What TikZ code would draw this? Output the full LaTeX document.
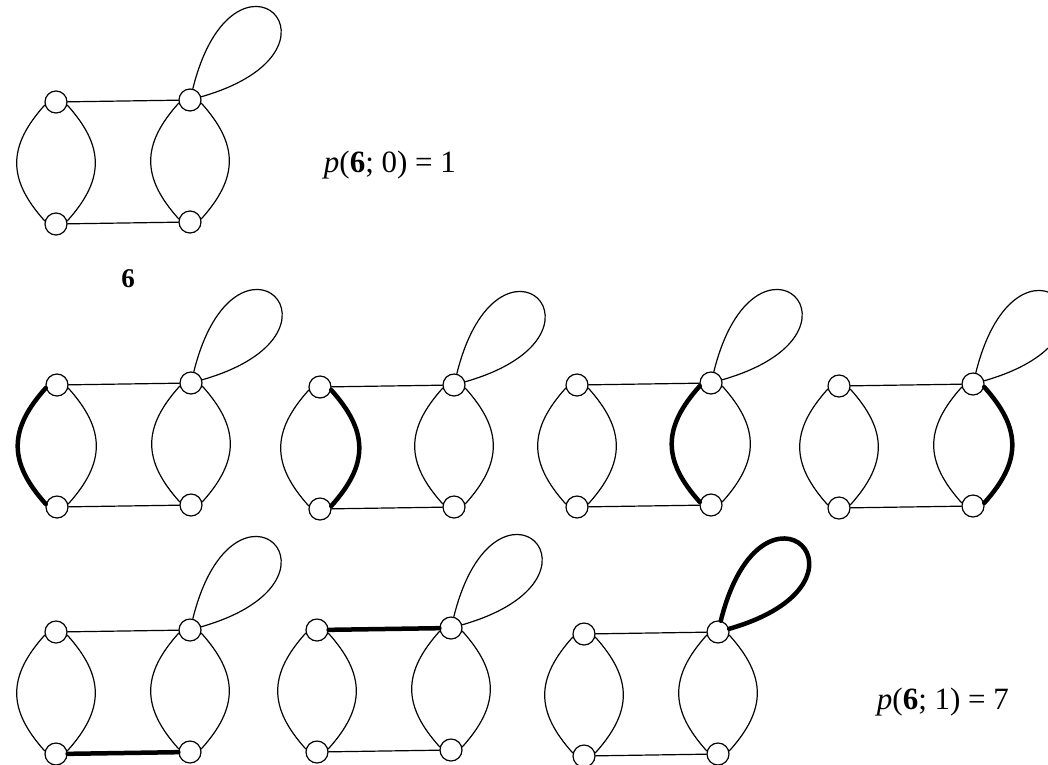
\documentclass[tikz,border=0pt]{standalone}
\usepackage{fontspec}
\setmainfont{Liberation Serif}
\tikzset{
  vtx/.style={circle,draw,fill=white,minimum size=22pt,inner sep=0pt},
  thickedge/.style={line width=4.5pt},
}
% one drawing of the graph 6, #3 names the edge that is drawn thick
\newcommand{\sixgraph}[3]{%
  \begin{scope}[shift={#2}]
    \tikzset{eLO/.style={},eLI/.style={},eRI/.style={},eRO/.style={},
      eTop/.style={},eBot/.style={},eLoop/.style={},eNone/.style={}}
    \tikzset{#3/.style={thickedge}}
    \node[vtx] (#1lt) at (0,0) {};
    \node[vtx] (#1lb) at (0,-122) {};
    \node[vtx] (#1rt) at (134,2) {};
    \node[vtx] (#1rb) at (134,-120) {};
    \draw[eLO] (#1lt.195) .. controls +(228:56) and +(132:56) .. (#1lb.165);
    \draw[eLI] (#1lt.-15) .. controls +(-48:56) and +(48:56) .. (#1lb.15);
    \draw[eRI] (#1rt.195) .. controls +(228:56) and +(132:56) .. (#1rb.165);
    \draw[eRO] (#1rt.-15) .. controls +(-48:56) and +(48:56) .. (#1rb.15);
    \draw[eTop] (#1lt) -- (#1rt);
    \draw[eBot] (#1lb) -- (#1rb);
    \draw[eLoop] (#1rt) to[out=76,in=16,distance=170pt] (#1rt);
  \end{scope}}
\begin{document}
\begin{tikzpicture}[x=1pt,y=1pt,line width=1.2pt,line join=round,line cap=round]
  \useasboundingbox (0,0) rectangle (1048,-764);
  % graph 6 alone
  \sixgraph{a}{(56,-102)}{eNone}
  \node[anchor=base west,font=\fontsize{31}{36}\selectfont] (pzero) at (320,-172)
    {\textit{p}(\textbf{6}; 0) = 1};
  \node[anchor=base,font=\fontsize{27}{32}\selectfont\bfseries] (six) at (128,-287) {6};
  % one thick edge each
  \sixgraph{b}{(57,-385)}{eLO}
  \sixgraph{c}{(320,-387)}{eLI}
  \sixgraph{d}{(577,-385)}{eRI}
  \sixgraph{e}{(839,-386)}{eRO}
  \sixgraph{f}{(56,-632)}{eBot}
  \sixgraph{g}{(317,-630)}{eTop}
  \sixgraph{h}{(584,-634)}{eLoop}
  \node[anchor=base west,font=\fontsize{31}{36}\selectfont] (pone) at (873,-709)
    {\textit{p}(\textbf{6}; 1) = 7};
\end{tikzpicture}
\end{document}
